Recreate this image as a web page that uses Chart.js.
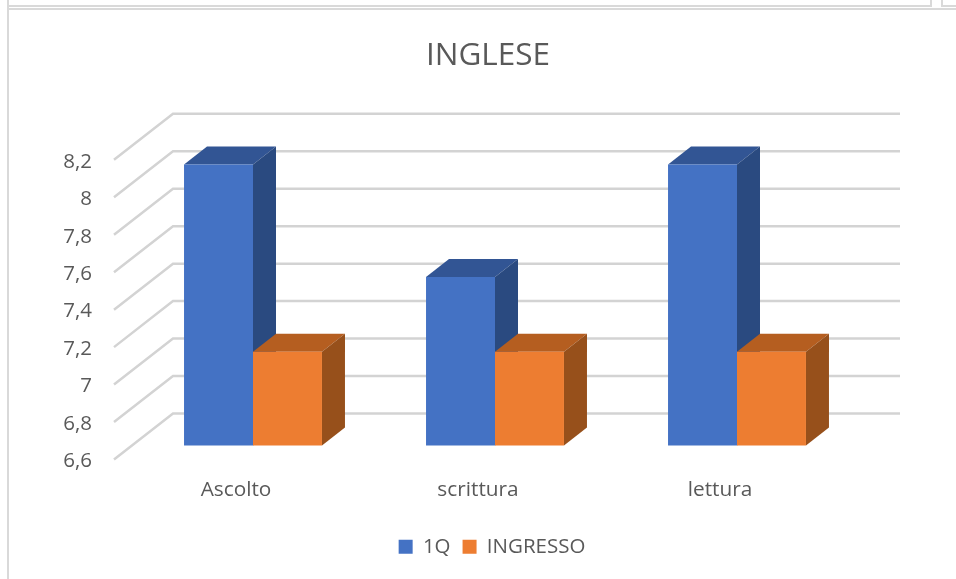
<!DOCTYPE html>
<html>
<head>
<meta charset="utf-8">
<title>INGLESE</title>
<script src="https://cdn.jsdelivr.net/npm/chart.js@4"></script>
<style>
  body { margin: 0; background: #fff; overflow: hidden; }
  #wrap { position: relative; width: 956px; height: 579px; }
  canvas { position: absolute; left: 0; top: 0; }
  .frame { position: absolute; background: #d9d9d9; }
</style>
</head>
<body>
<div id="wrap">
  <canvas id="myChart" width="956" height="579"></canvas>
  <!-- bordi della finestra intorno al grafico -->
  <div class="frame" style="left:7px;top:0;width:2px;height:579px"></div>
  <div class="frame" style="left:7px;top:5px;width:924px;height:2px"></div>
  <div class="frame" style="left:930px;top:0;width:2px;height:7px"></div>
  <div class="frame" style="left:941px;top:0;width:2px;height:7px"></div>
  <div class="frame" style="left:941px;top:5px;width:15px;height:2px"></div>
  <div class="frame" style="left:7px;top:8px;width:949px;height:2px"></div>
</div>
<script>
const categories = ['Ascolto', 'scrittura', 'lettura'];
const primoQuadrimestre = [8.1, 7.5, 8.1];
const ingresso = [7.1, 7.1, 7.1];
const yTickLabels = ['6,6', '6,8', '7', '7,2', '7,4', '7,6', '7,8', '8', '8,2'];

const textColor = '#595959';
const fontFamily = '"Open Sans", sans-serif';

// effetto 3D: facce laterali e griglia sul fondo, calcolate dalle scale
const depth3d = {
    id: 'depth3d',
    afterLayout(chart) {
        // la legenda nell'originale e' leggermente a destra del titolo
        chart.legend.left += 4;
        chart.legend.right += 4;
    },
    beforeDatasetsDraw(chart) {
        const { ctx, chartArea, scales: { y } } = chart;
        ctx.save();
        ctx.strokeStyle = '#d3d3d3';
        ctx.lineWidth = 2.5;
        y.ticks.forEach(tick => {
            const py = y.getPixelForValue(tick.value);
            ctx.beginPath();
            ctx.moveTo(chartArea.left - 18, py + 14);
            ctx.lineTo(chartArea.left + 41, py - 32);
            ctx.lineTo(chartArea.right + 42, py - 32);
            ctx.stroke();
        });

        const faces = [
            { top: '#325594', side: '#2a4a80' },
            { top: '#b55e20', side: '#97501b' }
        ];
        const dx = 23, dy = -18;
        chart.getSortedVisibleDatasetMetas().forEach(meta => {
            const colors = faces[meta.index];
            meta.data.forEach(bar => {
                const left = bar.x - bar.width / 2;
                const right = bar.x + bar.width / 2;
                const base = chartArea.bottom;
                ctx.fillStyle = colors.top;
                ctx.beginPath();
                ctx.moveTo(left, bar.y);
                ctx.lineTo(left + dx, bar.y + dy);
                ctx.lineTo(right + dx, bar.y + dy);
                ctx.lineTo(right, bar.y);
                ctx.closePath();
                ctx.fill();
                ctx.fillStyle = colors.side;
                ctx.beginPath();
                ctx.moveTo(right, bar.y);
                ctx.lineTo(right + dx, bar.y + dy);
                ctx.lineTo(right + dx, base + dy);
                ctx.lineTo(right, base);
                ctx.closePath();
                ctx.fill();
            });
        });
        ctx.restore();
    }
};

new Chart(document.getElementById('myChart'), {
    type: 'bar',
    data: {
        labels: categories,
        datasets: [
            { label: '1Q', data: primoQuadrimestre, backgroundColor: '#4472C4' },
            { label: 'INGRESSO', data: ingresso, backgroundColor: '#ED7D31' }
        ]
    },
    options: {
        responsive: false,
        animation: false,
        categoryPercentage: 0.57,
        barPercentage: 1,
        layout: { padding: { left: 20, right: 0, top: 16, bottom: 12 } },
        plugins: {
            title: {
                display: true,
                text: 'INGLESE',
                color: textColor,
                font: { family: fontFamily, size: 31.5, weight: 'normal' },
                padding: { top: 21, bottom: 71 }
            },
            legend: {
                position: 'bottom',
                labels: {
                    color: textColor,
                    font: { family: fontFamily, size: 20.5 },
                    boxWidth: 14,
                    boxHeight: 14,
                    padding: 12
                }
            },
            tooltip: { enabled: false }
        },
        scales: {
            x: {
                grid: { display: false },
                border: { display: false },
                afterFit(scale) { scale.height = 79; },
                ticks: {
                    color: textColor,
                    font: { family: fontFamily, size: 20.8 },
                    padding: 24,
                    labelOffset: -17,
                    maxRotation: 0
                }
            },
            y: {
                min: 6.6,
                max: 8.2,
                grid: { display: false },
                border: { display: false },
                afterFit(scale) { scale.width = 112; },
                ticks: {
                    stepSize: 0.2,
                    color: textColor,
                    font: { family: fontFamily, size: 20.5 },
                    padding: 32,
                    labelOffset: 16,
                    callback: (value, i) => yTickLabels[i]
                }
            },
            // asse vuoto: tiene il margine a destra senza spostare titolo e legenda
            spacer: {
                position: 'right',
                grid: { display: false },
                border: { display: false },
                ticks: { display: false },
                afterFit(scale) { scale.width = 98; }
            }
        }
    },
    plugins: [depth3d]
});
</script>
</body>
</html>
